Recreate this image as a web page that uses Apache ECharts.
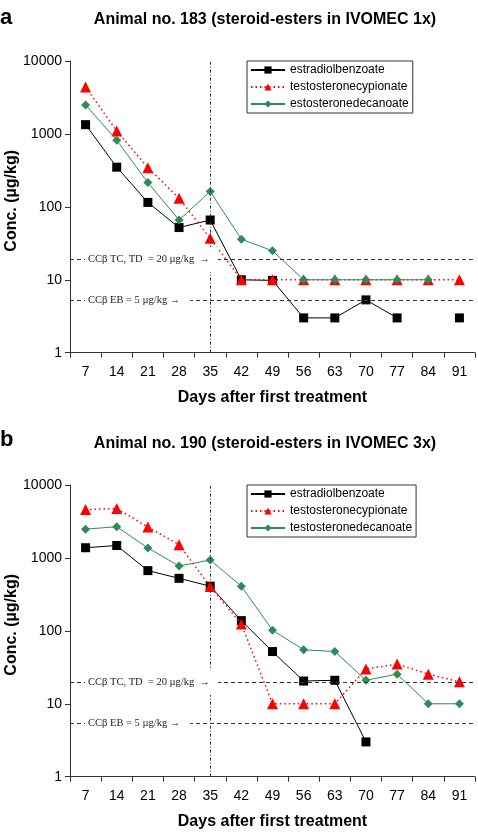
<!DOCTYPE html>
<html><head><meta charset="utf-8">
<script src="https://cdn.jsdelivr.net/npm/echarts@6/dist/echarts.min.js"></script>
<style>html,body{margin:0;padding:0;background:#fff}#c{width:478px;height:832px}</style>
</head><body><div id="c"></div>
<script>
// ---- data ----
const days = ['7','14','21','28','35','42','49','56','63','70','77','84','91'];
const panelLetters = ['a','b'];
const titles = ['Animal no. 183 (steroid-esters in IVOMEC 1x)', 'Animal no. 190 (steroid-esters in IVOMEC 3x)'];
const namesA = ['estradiolbenzoate','testosteronecypionate','estosteronedecanoate'];
const namesB = ['estradiolbenzoate','testosteronecypionate','testosteronedecanoate'];
const a_EB = [1340, 350, 115, 52, 66, 10, 9.8, 3, 3, 5.3, 3, '-', 3];
const a_TC = [4400, 1100, 345, 131, 37, 10, 10, 10, 10, 10, 10, 10, 10];
const a_TD = [2500, 820, 215, 66, 162, 36, 25, 10, 10, 10, 10, 10, '-'];
const b_EB = [1380, 1480, 670, 525, 410, 138, 52, 20.5, 21, 3, '-', '-', '-'];
const b_TC = [4600, 4750, 2650, 1520, 405, 124, 10, 10, 10, 30, 35, 25.5, 20];
const b_TD = [2480, 2680, 1370, 775, 935, 410, 102, 55, 52, 21, 25.5, 10, 10];
const ccbTC = [19, 19.6];
const ccbEB = [5.3, 5.4];
const ccbTCText = 'CCβ TC, TD  = 20 µg/kg  →';
const ccbEBText = 'CCβ EB = 5 µg/kg →';
const treatDay = '35';
const xName = 'Days after first treatment';
const yName = 'Conc. (µg/kg)';

// ---- chart ----
const SANS = '"Liberation Sans", Arial, Helvetica, sans-serif';
const SERIF = '"Liberation Serif", "Times New Roman", serif';
const chart = echarts.init(document.getElementById('c'), null, {renderer: 'canvas'});
const gridTops = [61, 485];
const gridH = 291.7;

function xAxisOf(i) {
  return {
    type: 'category', gridIndex: i, data: days, boundaryGap: true,
    axisLine: {lineStyle: {color: '#333', width: 1}},
    axisTick: {show: true, length: 5, lineStyle: {color: '#333'}},
    axisLabel: {fontSize: 14, color: '#000', fontFamily: SANS, margin: 12, interval: 0},
    name: xName, nameLocation: 'middle', nameGap: 37, nameMoveOverlap: false,
    nameTextStyle: {fontSize: 16, fontWeight: 'bold', color: '#000', fontFamily: SANS},
    splitLine: {show: false}
  };
}
function yAxisOf(i) {
  return {
    type: 'log', logBase: 10, gridIndex: i, min: 1, max: 10000,
    axisLine: {show: true, lineStyle: {color: '#333', width: 1}},
    axisTick: {show: true, length: 5, lineStyle: {color: '#333'}},
    minorTick: {show: false},
    axisLabel: {fontSize: 14, color: '#000', fontFamily: SANS, margin: 8,
      formatter: v => String(Math.round(v))},
    name: yName, nameLocation: 'middle', nameGap: 50, nameRotate: 90, nameMoveOverlap: false,
    nameTextStyle: {fontSize: 16, fontWeight: 'bold', color: '#000', fontFamily: SANS, padding: [0, 0, 0, 12]},
    splitLine: {show: false}
  };
}
const styles = [
  {symbol: 'rect', symbolSize: 9, color: '#000', line: {color: '#000', width: 1, type: 'solid'}},
  {symbol: 'triangle', symbolSize: 11, color: '#f00', line: {color: '#f00', width: 1.5, type: [1.5, 3]}},
  {symbol: 'diamond', symbolSize: 9, color: '#2e8b57', line: {color: '#2e8b57', width: 1, type: 'solid'}}
];
function seriesOf(name, data, gi, si, extra) {
  const s = styles[si];
  return Object.assign({
    type: 'line', name: name, data: data, xAxisIndex: gi, yAxisIndex: gi,
    symbol: s.symbol, symbolSize: s.symbolSize, showSymbol: true,
    itemStyle: {color: s.color, borderWidth: 0},
    lineStyle: s.line, connectNulls: false, z: 2 + si, animation: false
  }, extra || {});
}
function refLines(gi) {
  return {
    markLine: {
      silent: true, symbol: ['none', 'none'], label: {show: false}, animation: false,
      data: [
        {yAxis: ccbTC[gi], lineStyle: {color: '#333', type: [4, 3], width: 1.2}},
        {yAxis: ccbEB[gi], lineStyle: {color: '#333', type: [4, 3], width: 1.2}},
        {xAxis: treatDay, lineStyle: {color: '#333', type: [3, 2, 1, 2], width: 1}}
      ]
    }
  };
}
const legendBase = {
  orient: 'vertical', left: 247, itemWidth: 34, itemHeight: 9, itemGap: 5,
  padding: [3, 4, 3, 3], borderColor: '#333', borderWidth: 1, backgroundColor: '#fff',
  textStyle: {fontSize: 12, color: '#000', fontFamily: SANS}, selectedMode: false
};

chart.setOption({
  animation: false,
  backgroundColor: '#fff',
  grid: gridTops.map(t => ({left: 70, right: 3, top: t, height: gridH, containLabel: false, outerBoundsMode: 'none'})),
  xAxis: [xAxisOf(0), xAxisOf(1)],
  yAxis: [yAxisOf(0), yAxisOf(1)],
  legend: [
    Object.assign({}, legendBase, {top: gridTops[0], data: namesA}),
    Object.assign({}, legendBase, {top: gridTops[1], data: namesB})
  ],
  series: [
    seriesOf(namesA[0], a_EB, 0, 0, refLines(0)),
    seriesOf(namesA[1], a_TC, 0, 1),
    seriesOf(namesA[2], a_TD, 0, 2),
    seriesOf(namesB[0], b_EB, 1, 0, refLines(1)),
    seriesOf(namesB[1], b_TC, 1, 1),
    seriesOf(namesB[2], b_TD, 1, 2)
  ]
});

const g = [];
[0, 1].forEach(gi => {
  const yTC = chart.convertToPixel({yAxisIndex: gi}, ccbTC[gi]);
  const yEB = chart.convertToPixel({yAxisIndex: gi}, ccbEB[gi]);
  const base = gi === 0 ? 0 : 423.5;
  g.push({type: 'text', x: 0, y: gi === 0 ? 18 : 440, z: 100, style: {text: panelLetters[gi], fontSize: 22, fontWeight: 'bold', fontFamily: SANS, fill: '#000', align: 'left', verticalAlign: 'middle'}});
  g.push({type: 'text', x: 265, y: base + 20, z: 100, style: {text: titles[gi], fontSize: 16, fontWeight: 'bold', fontFamily: SANS, fill: '#000', align: 'center', verticalAlign: 'middle'}});
  g.push({type: 'text', x: 85, y: yTC, z: 100, style: {text: ccbTCText, fontSize: 10.5, fontFamily: SERIF, fill: '#222', align: 'left', verticalAlign: 'middle', backgroundColor: '#fff', padding: [7, 8, 7, 3]}});
  g.push({type: 'text', x: 85, y: yEB, z: 100, style: {text: ccbEBText, fontSize: 10.5, fontFamily: SERIF, fill: '#222', align: 'left', verticalAlign: 'middle', backgroundColor: '#fff', padding: [2, 10, 2, 3]}});
});
chart.setOption({graphic: g});
</script>
</body></html>
